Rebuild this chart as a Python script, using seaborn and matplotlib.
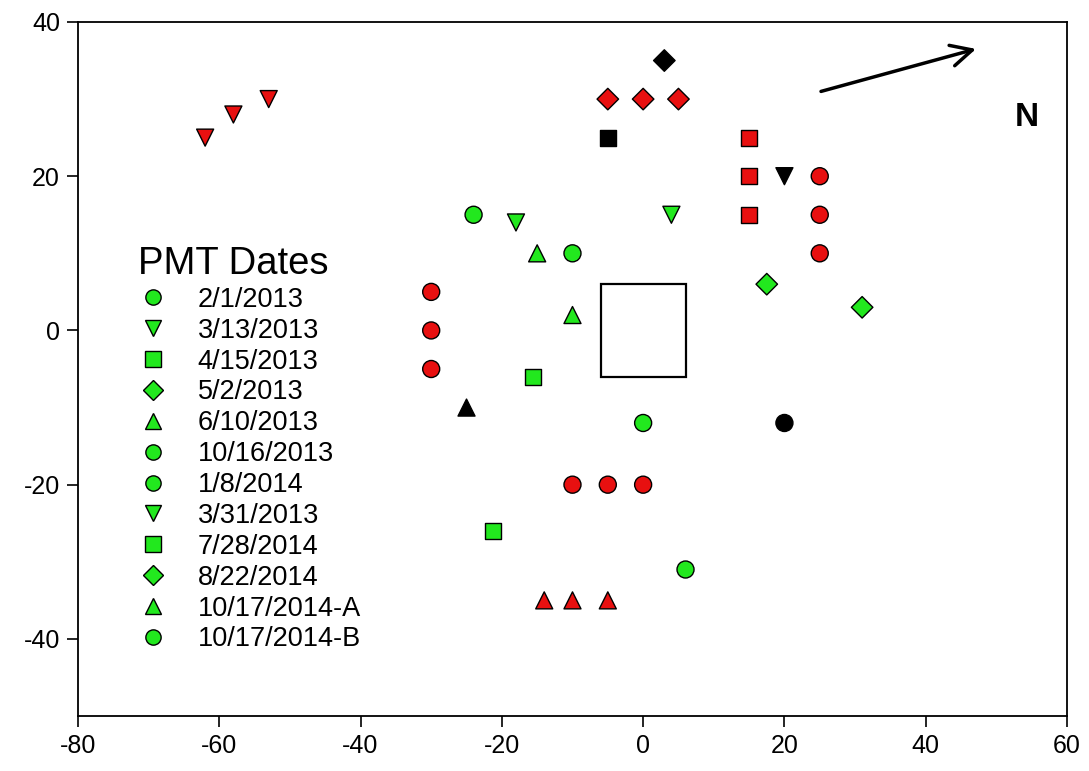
import matplotlib
matplotlib.use("Agg")
import matplotlib.pyplot as plt
from matplotlib.lines import Line2D
from matplotlib.patches import Rectangle
import seaborn as sns
import pandas as pd

sns.set_theme(style="white")
plt.rcParams['font.family'] = ['Liberation Sans', 'DejaVu Sans']
plt.rcParams['axes.unicode_minus'] = False
plt.rcParams['text.color'] = 'black'
plt.rcParams['xtick.color'] = 'black'
plt.rcParams['ytick.color'] = 'black'

# ---- data ----
dates = ["2/1/2013", "3/13/2013", "4/15/2013", "5/2/2013", "6/10/2013",
         "10/16/2013", "1/8/2014", "3/31/2013", "7/28/2014", "8/22/2014",
         "10/17/2014-A", "10/17/2014-B"]
date_markers = ["o", "v", "s", "D", "^", "o", "o", "v", "s", "D", "^", "o"]

pt_x = [-24, -10, -30, -30, -30, 0, -10, -5, 0, 20, 6, 25, 25, 25,
        -18, -62, -58, -53, 4, 20,
        -15.6, -21.3, -5, 15, 15, 15,
        17.5, 31, 3, -5, 0, 5,
        -15, -10, -25, -14, -10, -5]
pt_y = [15, 10, 5, 0, -5, -12, -20, -20, -20, -12, -31, 20, 15, 10,
        14, 25, 28, 30, 15, 20,
        -6, -26, 25, 25, 20, 15,
        6, 3, 35, 30, 30, 30,
        10, 2, -10, -35, -35, -35]
pt_date = (["2/1/2013", "10/16/2013", "10/16/2013", "10/16/2013", "10/16/2013",
            "1/8/2014", "1/8/2014", "1/8/2014", "1/8/2014", "1/8/2014",
            "10/17/2014-B", "10/17/2014-B", "10/17/2014-B", "10/17/2014-B"]
           + ["3/13/2013", "3/13/2013", "3/13/2013", "3/13/2013", "3/31/2013", "3/31/2013"]
           + ["4/15/2013", "7/28/2014", "7/28/2014", "7/28/2014", "7/28/2014", "7/28/2014"]
           + ["5/2/2013", "8/22/2014", "8/22/2014", "8/22/2014", "8/22/2014", "8/22/2014"]
           + ["6/10/2013", "10/17/2014-A", "10/17/2014-A", "10/17/2014-A", "10/17/2014-A", "10/17/2014-A"])
pt_status = (["green", "green", "red", "red", "red", "green", "red", "red", "red", "black",
              "green", "red", "red", "red"]
             + ["green", "red", "red", "red", "green", "black"]
             + ["green", "green", "black", "red", "red", "red"]
             + ["green", "green", "black", "red", "red", "red"]
             + ["green", "green", "black", "red", "red", "red"])

status_colors = {"green": "#22e81e", "red": "#e81010", "black": "#000000"}

x_ticks = [-80, -60, -40, -20, 0, 20, 40, 60]
y_ticks = [-40, -20, 0, 20, 40]

df = pd.DataFrame({"x": pt_x, "y": pt_y, "date": pt_date, "status": pt_status})

fig = plt.figure(figsize=(10.89, 7.71), dpi=100)
ax = fig.add_axes([0.0716, 0.0713, 0.9082, 0.9002])

marker_map = dict(zip(dates, date_markers))
size_map = {"o": 150, "v": 150, "s": 130, "D": 120, "^": 150}
for m in ["o", "v", "s", "D", "^"]:
    sub = df[df["date"].map(marker_map) == m]
    sns.scatterplot(data=sub, x="x", y="y", hue="status", palette=status_colors,
                    marker=m, s=size_map[m], edgecolor="black", linewidth=1.0,
                    legend=False, ax=ax, zorder=3)

ax.add_patch(Rectangle((-6, -6), 12, 12, fill=False, edgecolor="black", lw=1.6, zorder=2))

ax.annotate("", xy=(47.5, 36.6), xytext=(24.8, 30.9),
            arrowprops=dict(arrowstyle="->", lw=2.5, color="black", mutation_scale=38))
ax.text(54.3, 27.6, "N", fontsize=24, fontweight="bold", ha="center", va="center")

ax.set_xlim(-80, 60)
ax.set_ylim(-50, 40)
ax.set_xticks(x_ticks)
ax.set_yticks(y_ticks)
ax.set_xlabel("")
ax.set_ylabel("")
for s in ax.spines.values():
    s.set_color("black")
    s.set_linewidth(1.3)
ax.tick_params(axis="both", direction="out", length=8, width=1.2, color="black",
               labelsize=18, bottom=True, left=True, top=False, right=False, pad=5,
               labelcolor="black")

handles = [Line2D([], [], linestyle="none", marker=m, markersize=11 if m != "D" else 10,
                  markerfacecolor=status_colors["green"], markeredgecolor="black",
                  markeredgewidth=1.0) for m in date_markers]
leg = ax.legend(handles, dates, title="PMT Dates", loc="upper left",
                bbox_to_anchor=(0.05, 0.693), frameon=False, fontsize=19.5,
                title_fontsize=27.5, labelspacing=0.18, handletextpad=1.1,
                handlelength=1.1, alignment="left", borderaxespad=0)

fig.savefig("out.png", dpi=100)
